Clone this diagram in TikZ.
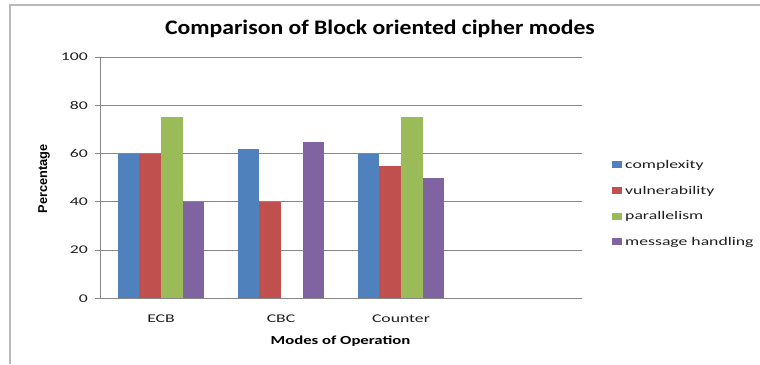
\documentclass[tikz,border=0pt]{standalone}
\usepackage{fontspec}
\setmainfont{Carlito}
\newfontfamily\labfont{Liberation Sans}
\definecolor{cblue}{RGB}{79,129,189}
\definecolor{cred}{RGB}{192,80,77}
\definecolor{cgreen}{RGB}{155,187,89}
\definecolor{cpurple}{RGB}{128,100,162}
\definecolor{gridgray}{RGB}{134,134,134}
\definecolor{framegray}{RGB}{185,185,185}
\newcommand{\sx}[2]{\scalebox{#1}[1]{#2}}
\tikzset{
  gridline/.style={draw=gridgray, line width=1pt},
  frameline/.style={draw=framegray, line width=1.2pt},
  ticklab/.style={anchor=east, inner sep=0pt, font=\fontsize{11.8}{12}\selectfont, text=black!88},
  catlab/.style={anchor=base, inner sep=0pt, font=\fontsize{11.8}{12}\selectfont, text=black!88},
  leglab/.style={anchor=base west, inner sep=0pt, font=\fontsize{11.8}{12}\selectfont, text=black!88},
  legbox/.style={inner sep=0pt, minimum width=10pt, minimum height=7pt},
  bar/.style={draw=none}
}
\begin{document}
\begin{tikzpicture}[x=1pt,y=-1pt]
\useasboundingbox (0,0) rectangle (760,364);
\fill[white] (0,0) rectangle (760,364);
% frame
\draw[frameline] (10,364) -- (10,5) -- (760,5);
% title
\node[anchor=base, inner sep=0pt, font=\bfseries\fontsize{20.6}{22}\selectfont] (title) at (380,34.7) {\sx{1.15}{Comparison of Block oriented cipher modes}};
% gridlines and ticks
\foreach \v in {0,20,40,60,80,100}{
  \pgfmathsetmacro{\yy}{298.5-\v*2.415}
  \draw[gridline] (95,\yy) -- (582,\yy);
  \node[ticklab] (t\v) at (88,\yy) {\sx{1.5}{\v}};
}
\draw[gridline] (100.5,57) -- (100.5,298.5);
% bars
\foreach \i/\a/\b/\c/\d in {0/60/60/75/40, 1/62/40/0/65, 2/60/55/75/50}{
  \pgfmathsetmacro{\xs}{117.7+120*\i}
  \pgfmathsetmacro{\w}{21.67}
  \foreach \v/\col [count=\j from 0] in {\a/cblue, \b/cred, \c/cgreen, \d/cpurple}{
    \pgfmathsetmacro{\xl}{\xs+\j*\w}
    \pgfmathsetmacro{\xr}{\xl+\w}
    \pgfmathsetmacro{\yt}{298.5-\v*2.415}
    \ifdim \v pt>0pt
      \fill[\col] (\xl,\yt) rectangle (\xr,298);
    \fi
  }
}
% category labels
\node[catlab] (ecb) at (161,322.3) {\sx{1.5}{ECB}};
\node[catlab] (cbc) at (281,322.3) {\sx{1.5}{CBC}};
\node[catlab] (ctr) at (401,322.3) {\sx{1.5}{Counter}};
% axis titles
\node[anchor=base, inner sep=0pt, font=\bfseries\fontsize{12.3}{13}\selectfont] (xtitle) at (340.5,344) {\sx{1.36}{Modes of Operation}};
\node[rotate=90, inner sep=0pt, font=\labfont\bfseries\fontsize{12.8}{13}\selectfont] (ytitle) at (44,179) {Percentage};
% legend
\foreach \lab/\col [count=\k from 0] in {complexity/cblue, vulnerability/cred, parallelism/cgreen, message handling/cpurple}{
  \pgfmathsetmacro{\yb}{168.3+25.8*\k}
  \node[legbox, fill=\col] (lb\k) at (616.7,\yb-3.8) {};
  \node[leglab] (ll\k) at (625,\yb) {\sx{1.5}{\lab}};
}
\end{tikzpicture}
\end{document}
